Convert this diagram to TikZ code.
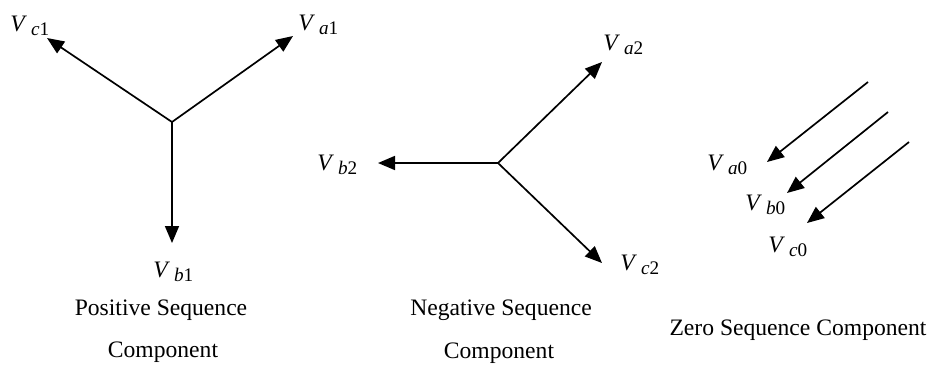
\documentclass[tikz,border=0pt]{standalone}
\usepackage{fontspec}
\setmainfont{Liberation Serif}
\usetikzlibrary{arrows.meta}
\tikzset{vec/.style={line width=0.85pt, -{Triangle[length=8.5pt,width=7pt]}},
  vlab/.style={inner sep=0pt, anchor=base west, font=\fontsize{11.8}{14}\selectfont},
  caption/.style={inner sep=0pt, anchor=base, font=\fontsize{11.8}{14}\selectfont}}
\newcommand{\vph}[2]{\textit{V}\hspace{2pt}\raisebox{-2pt}{\fontsize{9.6}{10}\selectfont\textit{#1}#2}}

\begin{document}
\begin{tikzpicture}[x=0.5pt,y=-0.5pt]
\useasboundingbox (0,0) rectangle (930,365);

% Positive sequence
\coordinate (p0) at (172,122);
\coordinate (pa) at (293,36);
\coordinate (pb) at (172,243);
\coordinate (pc) at (47,38);
\draw[vec] (p0) -- (pa);
\draw[vec] (p0) -- (pb);
\draw[vec] (p0) -- (pc);
\node[vlab] (va1) at (298,30) {\vph{a}{1}};
\node[vlab] (vb1) at (153,277) {\vph{b}{1}};
\node[vlab] (vc1) at (10,31) {\vph{c}{1}};
\node[caption] (poshead) at (161,315) {Positive Sequence};
\node[caption] (posfoot) at (163,357) {Component};

% Negative sequence
\coordinate (n0) at (498,163);
\coordinate (na) at (602,62);
\coordinate (nb) at (378,163);
\coordinate (nc) at (602,263);
\draw[vec] (n0) -- (na);
\draw[vec] (n0) -- (nb);
\draw[vec] (n0) -- (nc);
\node[vlab] (va2) at (603,50) {\vph{a}{2}};
\node[vlab] (vb2) at (317,170) {\vph{b}{2}};
\node[vlab] (vc2) at (620,270) {\vph{c}{2}};
\node[caption] (neghead) at (501,315) {Negative Sequence};
\node[caption] (negfoot) at (499,358) {Component};

% Zero sequence
\coordinate (za) at (868,82);
\coordinate (zb) at (888,112);
\coordinate (zc) at (909,142);
\coordinate (ta) at (767,162);
\coordinate (tb) at (787,193);
\coordinate (tc) at (807,223);
\draw[vec] (za) -- (ta);
\draw[vec] (zb) -- (tb);
\draw[vec] (zc) -- (tc);
\node[vlab] (va0) at (707,170) {\vph{a}{0}};
\node[vlab] (vb0) at (745,210) {\vph{b}{0}};
\node[vlab] (vc0) at (768,252) {\vph{c}{0}};
\node[caption] (zerohead) at (798,335) {Zero Sequence Component};
\end{tikzpicture}
\end{document}
